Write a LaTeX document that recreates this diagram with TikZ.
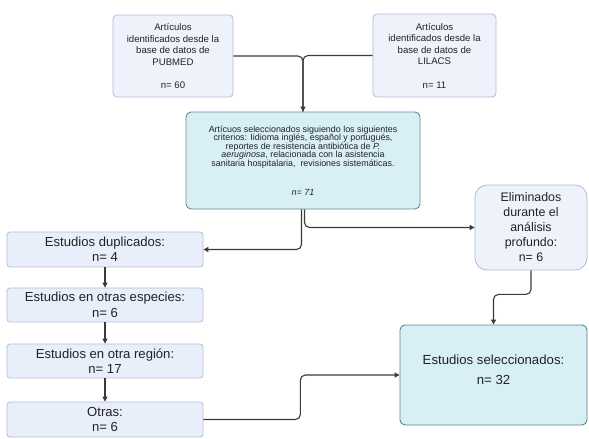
\documentclass[tikz,border=0pt]{standalone}
\usepackage{fontspec}
\setmainfont{Liberation Sans}
\usepackage{tikz}
\usetikzlibrary{positioning,arrows.meta}
\usepackage{xcolor}

\definecolor{topfill}{HTML}{EEF2FB}
\definecolor{topline}{HTML}{AEBCDA}
\definecolor{critfill}{HTML}{D8EFF5}
\definecolor{critline}{HTML}{5E8C99}
\definecolor{leftfill}{HTML}{E9EFFA}
\definecolor{leftline}{HTML}{AEBFDD}
\definecolor{connline}{HTML}{3A3A3A}
\definecolor{txt}{HTML}{222222}

\tikzset{
  dbbox/.style={draw=topline,fill=topfill,line width=0.8pt,rounded corners=4pt,
    minimum width=120pt,minimum height=82pt,inner sep=2pt,align=center,
    font=\fontsize{9.6}{11.6}\selectfont,text=txt},
  critbox/.style={draw=critline,fill=critfill,line width=0.9pt,rounded corners=5pt,
    minimum width=234pt,minimum height=97pt,inner sep=2pt,align=center,
    font=\fontsize{8.9}{8.5}\selectfont,text=txt},
  excbox/.style={draw=leftline,fill=leftfill,line width=0.8pt,rounded corners=3pt,
    minimum width=196pt,minimum height=34pt,inner sep=1pt,align=center,
    font=\fontsize{13.1}{15.5}\selectfont,text=txt},
  conn/.style={draw=connline,line width=1.1pt,rounded corners=5pt},
  tip/.style={-{Triangle[length=5pt,width=5pt]}}
}

\begin{document}
\begin{tikzpicture}[x=1pt,y=-1pt]
  \useasboundingbox (0,0) rectangle (589,439);
  % fuentes
  \node[dbbox] (pubmed) at (173,56) {Artículos\\identificados desde la\\base de datos de\\PUBMED\\[11.6pt]n= 60};
  \node[dbbox,minimum width=123pt,minimum height=83pt] (lilacs) at (434.5,55.5) {Artículos\\identificados desde la\\base de datos de\\LILACS\\[11.6pt]n= 11};
  % criterios
  \node[critbox] (crit) at (303,160.5) {Artícuos seleccionados siguiendo los siguientes\\criterios: Iidioma inglés, español y portugués,\\reportes de resistencia antibiótica de \textit{P.}\\\textit{aeruginosa}, relacionada con la asistencia\\sanitaria hospitalaria,\ \ revisiones sistemáticas.\\[21pt]\textit{n= 71}};
  % excluidos
  \node[excbox,minimum height=35pt] (dup) at (105,249.5) {Estudios duplicados:\\n= 4};
  \node[excbox] (esp) at (105,305) {Estudios en otras especies:\\n= 6};
  \node[excbox] (reg) at (105,361) {Estudios en otra región:\\n= 17};
  \node[excbox,minimum height=35pt] (otr) at (105,419.5) {Otras:\\n= 6};
  \node[excbox,rounded corners=12pt,draw=topline,fill=topfill,minimum width=112pt,minimum height=85pt,
    font=\fontsize{12.4}{15}\selectfont] (elim) at (531,227.5) {Eliminados\\durante el\\análisis\\profundo:\\n= 6};
  % resultado
  \node[critbox,draw=critline!95!black,minimum width=187pt,minimum height=100pt,
    font=\fontsize{13.2}{20}\selectfont] (sel) at (493.5,375) {Estudios seleccionados:\\n= 32\\[-10pt]\mbox{}};
  % conectores
  \draw[conn,tip] (pubmed.east) -| (crit.north);
  \draw[conn] (lilacs.west) -| (crit.north);
  \draw[conn,tip] ([xshift=-1.5pt]crit.south) |- (dup.east);
  \draw[conn,tip] ([xshift=1.5pt]crit.south) |- (elim.west);
  \draw[conn,tip] (dup.south) -- (esp.north);
  \draw[conn,tip] (esp.south) -- (reg.north);
  \draw[conn,tip] (reg.south) -- (otr.north);
  \draw[conn,tip] (elim.south) -- ++(0,24) -| (sel.north);
  \draw[conn,tip] (otr.east) -- ++(97,0) |- (sel.west);
\end{tikzpicture}
\end{document}
